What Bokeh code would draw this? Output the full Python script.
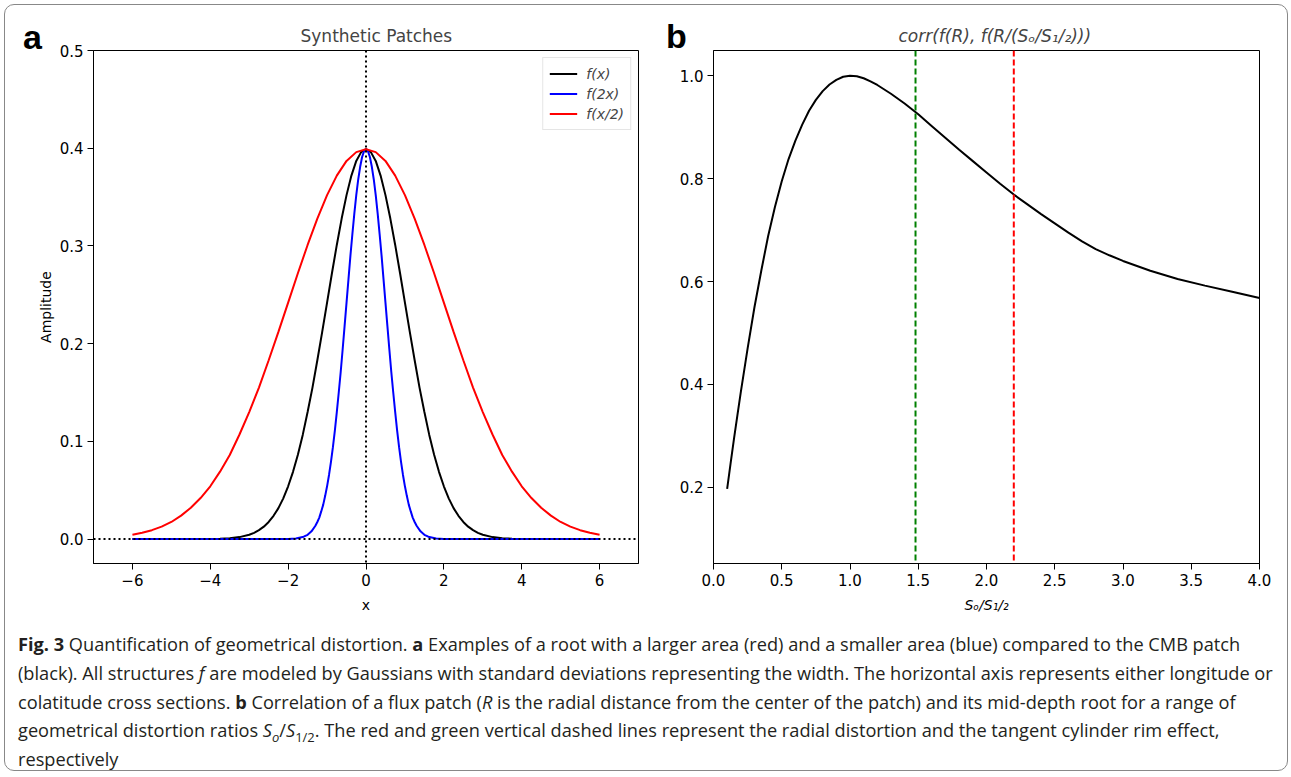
from bokeh.plotting import figure
from bokeh.models import Span, Legend, LegendItem, Div, FixedTicker, Range1d
from bokeh.layouts import row, column
from bokeh.embed import file_html
from bokeh.resources import INLINE

# ---------------- data: panel a ----------------
x_black = [-6.0, -5.0, -4.5, -4.0, -3.75, -3.5, -3.25,
           -3.0, -2.875, -2.75, -2.625, -2.5, -2.375, -2.25, -2.125, -2.0, -1.875, -1.75,
           -1.625, -1.5, -1.375, -1.25, -1.125, -1.0, -0.875, -0.75, -0.625, -0.5, -0.375,
           -0.25, -0.125, 0.0, 0.125, 0.25, 0.375, 0.5, 0.625, 0.75, 0.875, 1.0, 1.125,
           1.25, 1.375, 1.5, 1.625, 1.75, 1.875, 2.0, 2.125, 2.25, 2.375, 2.5, 2.625, 2.75,
           2.875, 3.0, 3.25, 3.5, 3.75, 4.0, 4.5, 5.0, 6.0]
f_x = [0, 0, 0, 0.0001, 0.0004, 0.0009, 0.0020,
       0.0044, 0.0064, 0.0091, 0.0127, 0.0175, 0.0238, 0.0317, 0.0417, 0.054, 0.0688, 0.0863,
       0.1066, 0.130, 0.155, 0.183, 0.212, 0.242, 0.272, 0.301, 0.328, 0.352, 0.372,
       0.387, 0.396, 0.399, 0.396, 0.387, 0.372, 0.352, 0.328, 0.301, 0.272, 0.242, 0.212,
       0.183, 0.155, 0.130, 0.1066, 0.0863, 0.0688, 0.054, 0.0417, 0.0317, 0.0238, 0.0175,
       0.0127, 0.0091, 0.0064, 0.0044, 0.0020, 0.0009, 0.0004, 0.0001, 0, 0, 0]

x_red = [-6.0, -5.75, -5.5, -5.25, -5.0, -4.75, -4.5, -4.25, -4.0, -3.75, -3.5, -3.25,
         -3.0, -2.75, -2.5, -2.25, -2.0, -1.75, -1.5, -1.25, -1.0, -0.75, -0.5, -0.25,
         0.0, 0.25, 0.5, 0.75, 1.0, 1.25, 1.5, 1.75, 2.0, 2.25, 2.5, 2.75,
         3.0, 3.25, 3.5, 3.75, 4.0, 4.25, 4.5, 4.75, 5.0, 5.25, 5.5, 5.75, 6.0]
f_half_x = [0.0044, 0.0064, 0.0091, 0.0127, 0.0175, 0.024, 0.032, 0.042, 0.054, 0.069,
            0.086, 0.107, 0.130, 0.155, 0.183, 0.212, 0.242, 0.272, 0.301, 0.328, 0.352,
            0.372, 0.387, 0.396, 0.399, 0.396, 0.387, 0.372, 0.352, 0.328, 0.301, 0.272,
            0.242, 0.212, 0.183, 0.155, 0.130, 0.107, 0.086, 0.069, 0.054, 0.042, 0.032,
            0.024, 0.0175, 0.0127, 0.0091, 0.0064, 0.0044]

x_blue = [-6.0, -4.0, -3.0, -2.5, -2.2, -2.0, -1.8, -1.6, -1.5, -1.4,
          -1.3, -1.25, -1.2, -1.15, -1.1, -1.05, -1.0, -0.95, -0.9, -0.85, -0.8, -0.75,
          -0.7, -0.65, -0.6, -0.55, -0.5, -0.45, -0.4, -0.35, -0.3, -0.25, -0.2, -0.15,
          -0.1, -0.05, 0.0, 0.05, 0.1, 0.15, 0.2, 0.25, 0.3, 0.35, 0.4, 0.45, 0.5, 0.55,
          0.6, 0.65, 0.7, 0.75, 0.8, 0.85, 0.9, 0.95, 1.0, 1.05, 1.1, 1.15, 1.2, 1.25, 1.3,
          1.4, 1.5, 1.6, 1.8, 2.0, 2.2, 2.5, 3.0, 4.0, 6.0]
f_2x = [0, 0, 0, 0, 0, 0.0001, 0.0006, 0.0024, 0.0044, 0.0079,
        0.0136, 0.0175, 0.022, 0.0283, 0.035, 0.044, 0.054, 0.0656, 0.079, 0.094, 0.111,
        0.130, 0.150, 0.171, 0.194, 0.218, 0.242, 0.266, 0.290, 0.312, 0.333, 0.352,
        0.368, 0.381, 0.391, 0.397, 0.399, 0.397, 0.391, 0.381, 0.368, 0.352, 0.333,
        0.312, 0.290, 0.266, 0.242, 0.218, 0.194, 0.171, 0.150, 0.130, 0.111, 0.094,
        0.079, 0.0656, 0.054, 0.044, 0.035, 0.0283, 0.022, 0.0175, 0.0136,
        0.0079, 0.0044, 0.0024, 0.0006, 0.0001, 0, 0, 0, 0, 0]
legend_labels = ["f(x)", "f(2x)", "f(x/2)"]
x_ticks_a = [-6, -4, -2, 0, 2, 4, 6]
y_ticks_a = [0.0, 0.1, 0.2, 0.3, 0.4, 0.5]

# ---------------- data: panel b ----------------
ratio = [0.10, 0.125, 0.15, 0.175, 0.20, 0.25, 0.30, 0.35, 0.40, 0.45, 0.50, 0.55, 0.60,
         0.65, 0.70, 0.75, 0.80, 0.85, 0.90, 0.95, 1.00, 1.05, 1.10, 1.15, 1.20, 1.30,
         1.40, 1.50, 1.60, 1.70, 1.80, 1.90, 2.00, 2.10, 2.20, 2.30, 2.40, 2.50, 2.60,
         2.70, 2.80, 2.90, 3.00, 3.20, 3.40, 3.60, 3.80, 4.00]
corr = [0.197, 0.246, 0.294, 0.340, 0.385, 0.470, 0.550, 0.621, 0.688, 0.745, 0.795,
        0.838, 0.874, 0.905, 0.932, 0.953, 0.970, 0.983, 0.992, 0.998, 1.000, 0.999,
        0.995, 0.989, 0.982, 0.965, 0.946, 0.925, 0.902, 0.879, 0.856, 0.834, 0.812,
        0.790, 0.769, 0.750, 0.731, 0.713, 0.695, 0.678, 0.663, 0.651, 0.640, 0.621,
        0.605, 0.592, 0.580, 0.568]
rim_effect = 1.48
radial_distortion = 2.2
x_ticks_b = [0.0, 0.5, 1.0, 1.5, 2.0, 2.5, 3.0, 3.5, 4.0]
y_ticks_b = [0.2, 0.4, 0.6, 0.8, 1.0]

FONT = "DejaVu Sans"
TICK = "15px"


def style(p):
    p.outline_line_color = "black"
    p.outline_line_width = 1
    p.xgrid.visible = False
    p.ygrid.visible = False
    for ax in (p.xaxis, p.yaxis):
        ax.axis_line_color = "black"
        ax.major_tick_line_color = "black"
        ax.major_tick_out = 6
        ax.major_tick_in = 0
        ax.minor_tick_line_color = None
        ax.major_label_text_font = FONT
        ax.major_label_text_font_size = TICK
        ax.major_label_text_color = "black"
        ax.axis_label_text_font = FONT
        ax.axis_label_text_font_size = "14px"
        ax.axis_label_text_font_style = "normal"
        ax.axis_label_text_color = "black"
    p.xaxis.major_label_standoff = 4
    p.yaxis.major_label_standoff = 4
    p.title.text_font = FONT
    p.title.text_font_size = "17px"
    p.title.text_font_style = "normal"
    p.title.align = "left"
    p.title.standoff = 9
    p.background_fill_color = "white"
    p.border_fill_color = "white"
    p.border_fill_alpha = 0


# ---------------- panel a ----------------
pa = figure(width=645, height=610, output_backend="svg", toolbar_location=None,
            x_range=Range1d(-7, 7), y_range=Range1d(-0.025, 0.5),
            title="Synthetic Patches", min_border_left=88, min_border_right=12,
            min_border_top=45, min_border_bottom=52)
style(pa)
pa.title.offset = 207
pa.xaxis.ticker = FixedTicker(ticks=x_ticks_a)
pa.xaxis.major_label_overrides = {t: (("\u2212" + str(abs(t))) if t < 0 else str(t)) for t in x_ticks_a}
pa.yaxis.ticker = FixedTicker(ticks=y_ticks_a)
pa.yaxis.major_label_overrides = {t: "%.1f" % t for t in y_ticks_a}
pa.xaxis.axis_label = "x"
pa.yaxis.axis_label = "Amplitude"
pa.xaxis.axis_label_standoff = 8
pa.yaxis.axis_label_standoff = 3

r1 = pa.line(x_black, f_x, line_color="black", line_width=2)
r2 = pa.line(x_blue, f_2x, line_color="blue", line_width=2)
r3 = pa.line(x_red, f_half_x, line_color="red", line_width=2)
pa.add_layout(Span(location=0, dimension="height", line_color="black",
                   line_width=2, line_dash="2 3"))
pa.add_layout(Span(location=0, dimension="width", line_color="black",
                   line_width=2, line_dash="2 3"))
leg = Legend(items=[LegendItem(label=legend_labels[0], renderers=[r1]),
                    LegendItem(label=legend_labels[1], renderers=[r2]),
                    LegendItem(label=legend_labels[2], renderers=[r3])],
             location="top_right", margin=7, padding=6, spacing=1,
             glyph_width=28, glyph_height=19, label_height=19, label_standoff=9,
             label_text_font=FONT, label_text_font_size="14px",
             label_text_font_style="italic",
             border_line_color="#cccccc", border_line_width=1,
             background_fill_alpha=0.85)
pa.add_layout(leg)

# ---------------- panel b ----------------
pb = figure(width=637, height=610, output_backend="svg", toolbar_location=None,
            x_range=Range1d(0, 4), y_range=Range1d(0.052, 1.049),
            title="corr(f(R), f(R/(S\u2092/S\u2081/\u2082)))",
            min_border_left=63, min_border_right=28,
            min_border_top=45, min_border_bottom=52)
style(pb)
pb.title.text_font_style = "italic"
pb.title.offset = 185
pb.xaxis.ticker = FixedTicker(ticks=x_ticks_b)
pb.xaxis.major_label_overrides = {t: "%.1f" % t for t in x_ticks_b}
pb.yaxis.ticker = FixedTicker(ticks=y_ticks_b)
pb.yaxis.major_label_overrides = {t: "%.1f" % t for t in y_ticks_b}
pb.xaxis.axis_label = "S\u2092/S\u2081/\u2082"
pb.xaxis.axis_label_text_font_style = "italic"
pb.xaxis.axis_label_standoff = 8

pb.line(ratio, corr, line_color="black", line_width=2)
pb.add_layout(Span(location=rim_effect, dimension="height", line_color="green",
                   line_width=2, line_dash="6 3"))
pb.add_layout(Span(location=radial_distortion, dimension="height", line_color="red",
                   line_width=2, line_dash="6 3"))

# ---------------- panel letters ----------------
letter_style = {"position": "absolute", "font-family": "Liberation Sans",
                "font-weight": "bold", "font-size": "34px", "line-height": "38px",
                "color": "black", "z-index": "10"}
letter_a = Div(text="a", width=30, height=40, margin=(0, 0, 0, 0),
               styles=dict(letter_style, left="18px", top="13px"))
letter_b = Div(text="b", width=30, height=40, margin=(0, 0, 0, 0),
               styles=dict(letter_style, left="661px", top="12px"))

# ---------------- caption ----------------
S = ("<i>S</i><sub style='line-height:0; font-size:13px'><i>o</i></sub>/<i>S</i>"
     "<sub style='line-height:0; font-size:13px'>1/2</sub>")
caption_html = (
    "<div style='padding-top:15px; padding-left:13px; white-space:nowrap; "
    "font-family:\"Open Sans\"; font-size:18.2px; line-height:28.75px; color:#231f20;'>"
    "<b>Fig. 3</b> Quantification of geometrical distortion. <b>a</b> Examples of a root with a larger area (red) and a smaller area (blue) compared to the CMB patch<br>"
    "(black). All structures <i>f</i> are modeled by Gaussians with standard deviations representing the width. The horizontal axis represents either longitude or<br>"
    "colatitude cross sections. <b>b</b> Correlation of a flux patch (<i>R</i> is the radial distance from the center of the patch) and its mid-depth root for a range of<br>"
    "geometrical distortion ratios " + S + ". The red and green vertical dashed lines represent the radial distortion and the tangent cylinder rim effect,<br>"
    "respectively</div>"
)
cap = Div(text=caption_html, width=1282, height=155, margin=(0, 0, 0, 0),
          styles={"overflow": "visible"})

layout = column(row(pa, pb), cap, letter_a, letter_b,
                styles={"border": "1.5px solid #888", "border-radius": "10px",
                        "margin": "4px 4px 0px 4px", "background": "white",
                        "position": "relative"})

open("out.html", "w").write(file_html(layout, INLINE))
